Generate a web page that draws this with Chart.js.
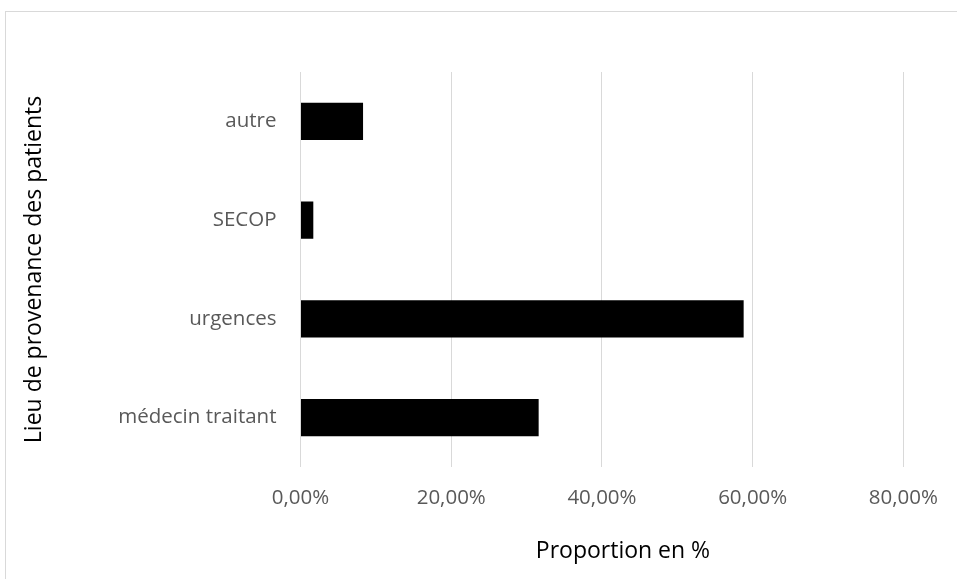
<!DOCTYPE html>
<html>
<head>
<meta charset="utf-8">
<script src="https://cdn.jsdelivr.net/npm/chart.js@4/dist/chart.umd.min.js"></script>
<style>
  html, body { margin: 0; padding: 0; background: #fff; overflow: hidden; }
  #frame { position: absolute; left: 5px; top: 11px; width: 1000px; height: 700px; border: 1px solid #d9d9d9; }
  #wrap { position: absolute; left: 0; top: 0; width: 957px; height: 579px; }
</style>
</head>
<body>
<div id="frame"></div>
<div id="wrap"><canvas id="myChart"></canvas></div>
<script>
'use strict'

// categories, top to bottom as shown
const categories = ['autre', 'SECOP', 'urgences', 'médecin traitant'];
// share of patients, in %
const proportions = [8.3, 1.7, 58.8, 31.6];
const xTicks = [0, 20, 40, 60, 80];

const xTitle = 'Proportion en %';
const yTitle = 'Lieu de provenance des patients';

const font = '"Open Sans", sans-serif';

// draws the x axis title a little right of the plot centre, as in the original
const xTitlePlugin = {
    id: 'xTitle',
    afterDraw(chart) {
        const ctx = chart.ctx;
        const area = chart.chartArea;
        ctx.save();
        ctx.font = '23px ' + font;
        ctx.fillStyle = '#000';
        ctx.textAlign = 'center';
        ctx.textBaseline = 'middle';
        ctx.fillText(xTitle, (area.left + area.right) / 2 + 21, 551);
        ctx.restore();
    }
};

let ctx = document.getElementById('myChart').getContext('2d');
new Chart(ctx, {
    type: 'bar',
    data: {
        labels: categories,
        datasets: [{
            data: proportions,
            backgroundColor: '#000',
            borderWidth: 0,
            barPercentage: 0.375,
            categoryPercentage: 1
        }]
    },
    plugins: [xTitlePlugin],
    options: {
        indexAxis: 'y',
        responsive: true,
        maintainAspectRatio: false,
        animation: false,
        layout: {
            padding: { left: 0, right: 52, top: 72, bottom: 0 }
        },
        plugins: {
            legend: { display: false },
            tooltip: { enabled: false }
        },
        scales: {
            x: {
                min: 0,
                max: 80,
                afterBuildTicks: scale => {
                    scale.ticks = xTicks.map(v => ({ value: v }));
                },
                afterFit: scale => { scale.height = 112; },
                grid: { color: '#d9d9d9', lineWidth: 1, drawTicks: false },
                border: { display: false },
                ticks: {
                    padding: 19,
                    color: '#595959',
                    font: { family: font, size: 20.5 },
                    callback: v => v.toFixed(2).replace('.', ',') + '%'
                },
                title: { display: false }
            },
            y: {
                afterFit: scale => { scale.width = 300.5; },
                grid: { display: false, drawTicks: false },
                border: { display: false },
                ticks: {
                    padding: 24,
                    color: '#595959',
                    font: { family: font, size: 20.5 }
                },
                title: {
                    display: true,
                    text: yTitle,
                    color: '#000',
                    font: { family: font, size: 23 },
                    padding: { top: 21, bottom: 0 }
                }
            }
        }
    }
});
</script>
</body>
</html>
